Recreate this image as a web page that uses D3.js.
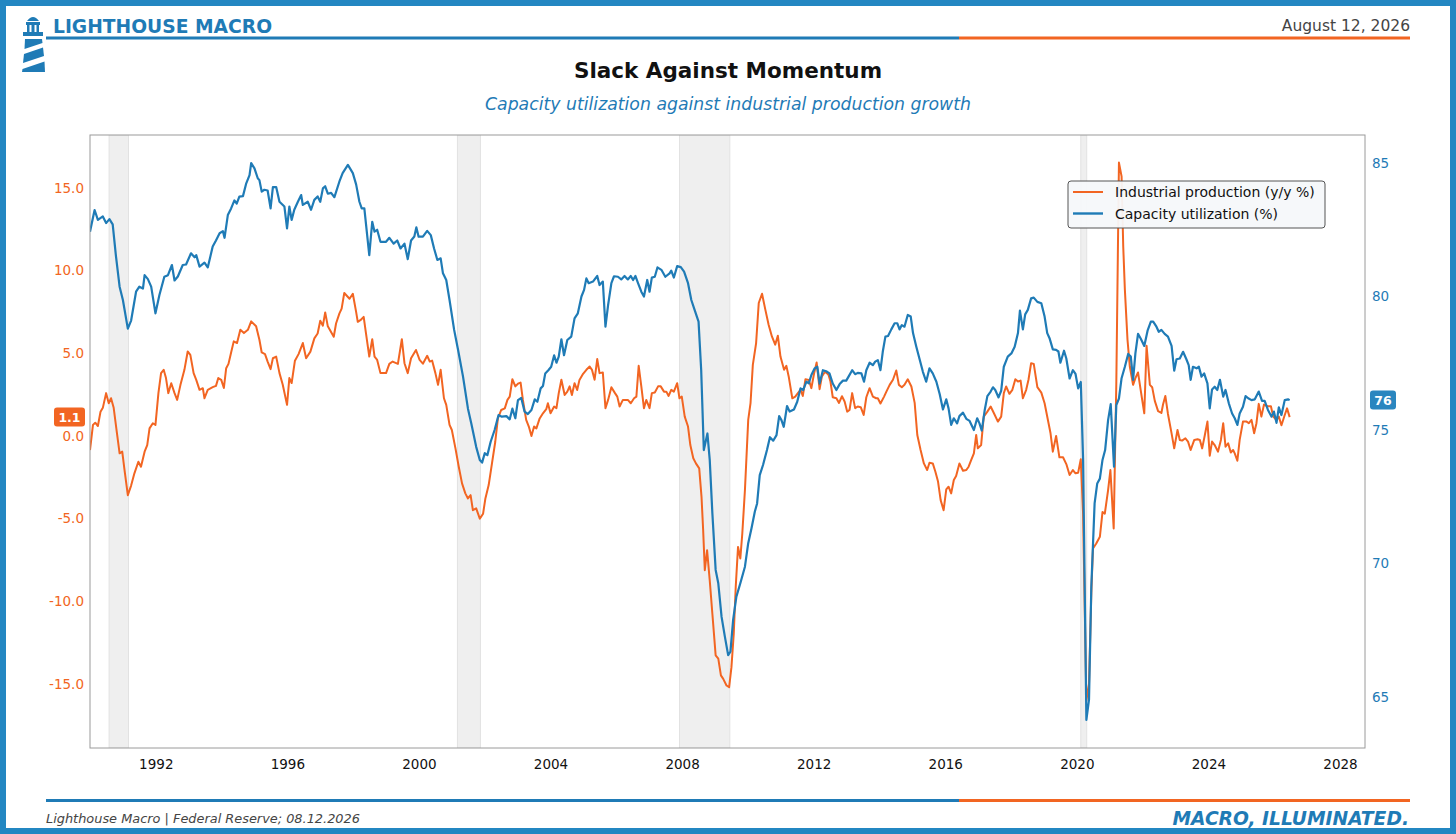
<!DOCTYPE html>
<html>
<head>
<meta charset="utf-8">
<script src="https://cdn.jsdelivr.net/npm/d3@7"></script>
<style>
  html, body { margin: 0; padding: 0; background: #fff; }
  svg { display: block; font-family: "DejaVu Sans", Verdana, sans-serif; }
</style>
</head>
<body>
<div id="chart"></div>
<script>
// industrial production, y/y % (decimal year, value)
const industrialProduction = [
  [1990.00,-0.85],[1990.09,0.67],[1990.16,0.8],[1990.24,0.6],[1990.32,1.47],[1990.39,1.7],[1990.49,2.59],[1990.57,1.98],
  [1990.64,2.28],[1990.72,1.7],[1990.82,0.16],[1990.90,-1.05],[1990.98,-0.95],[1991.05,-2.06],[1991.15,-3.58],[1991.25,-3.0],
  [1991.35,-2.26],[1991.47,-1.56],[1991.55,-1.86],[1991.66,-0.95],[1991.74,-0.55],[1991.81,0.46],[1991.91,0.77],[1991.99,0.67],
  [1992.08,2.59],[1992.16,3.8],[1992.24,4.0],[1992.31,3.5],[1992.38,2.59],[1992.47,3.19],[1992.57,2.59],[1992.65,2.18],
  [1992.75,3.09],[1992.87,4.0],[1992.97,5.11],[1993.05,4.9],[1993.15,3.8],[1993.23,3.39],[1993.33,2.79],[1993.43,2.89],
  [1993.48,2.28],[1993.58,2.79],[1993.73,2.95],[1993.83,3.03],[1993.90,3.5],[1993.99,3.39],[1994.07,2.9],[1994.14,4.1],
  [1994.21,4.36],[1994.29,5.05],[1994.37,5.72],[1994.47,5.62],[1994.57,6.42],[1994.68,6.22],[1994.80,6.42],[1994.90,6.93],
  [1995.05,6.63],[1995.15,5.82],[1995.22,5.05],[1995.32,4.95],[1995.40,4.5],[1995.49,4.04],[1995.56,4.7],[1995.66,4.8],
  [1995.76,3.8],[1995.86,3.1],[1995.99,1.88],[1996.06,3.5],[1996.13,3.2],[1996.23,4.55],[1996.34,4.95],[1996.47,5.62],
  [1996.57,4.7],[1996.70,5.1],[1996.82,5.9],[1996.92,6.2],[1997.00,6.97],[1997.08,6.67],[1997.15,7.47],[1997.23,6.63],
  [1997.41,6.0],[1997.48,6.8],[1997.58,7.4],[1997.65,7.7],[1997.73,8.65],[1997.82,8.45],[1997.89,8.3],[1997.99,8.6],
  [1998.09,7.5],[1998.14,6.9],[1998.22,7.0],[1998.32,7.2],[1998.39,6.2],[1998.49,4.8],[1998.58,5.85],[1998.65,4.8],
  [1998.73,4.6],[1998.83,3.8],[1999.00,3.8],[1999.10,4.36],[1999.20,4.5],[1999.36,4.36],[1999.48,5.85],[1999.56,4.4],
  [1999.66,3.8],[1999.76,4.7],[1999.91,5.2],[2000.02,4.6],[2000.12,4.37],[2000.25,4.85],[2000.33,4.5],[2000.40,4.56],
  [2000.50,3.8],[2000.58,3.09],[2000.66,4.0],[2000.76,2.28],[2000.83,1.88],[2000.93,0.67],[2001.00,0.36],[2001.11,-0.75],
  [2001.21,-1.86],[2001.31,-2.87],[2001.41,-3.47],[2001.49,-3.78],[2001.57,-3.58],[2001.64,-4.49],[2001.74,-4.38],[2001.85,-5.0],
  [2001.95,-4.7],[2002.02,-3.78],[2002.12,-2.97],[2002.22,-1.66],[2002.32,-0.35],[2002.40,1.06],[2002.50,1.57],[2002.61,1.67],
  [2002.69,2.18],[2002.76,2.38],[2002.84,3.43],[2002.93,3.0],[2003.01,3.16],[2003.09,3.23],[2003.16,2.18],[2003.26,0.97],
  [2003.34,0.57],[2003.42,0.0],[2003.50,0.57],[2003.57,0.46],[2003.67,1.06],[2003.77,1.37],[2003.87,1.62],[2003.92,1.98],
  [2004.00,1.37],[2004.11,1.78],[2004.18,1.68],[2004.25,2.59],[2004.33,3.4],[2004.43,2.48],[2004.51,2.68],[2004.58,3.0],
  [2004.65,2.48],[2004.73,3.19],[2004.81,2.78],[2004.88,3.39],[2004.99,3.76],[2005.09,4.0],[2005.19,4.2],[2005.26,4.0],
  [2005.34,3.4],[2005.42,4.65],[2005.49,3.8],[2005.59,3.84],[2005.67,1.68],[2005.75,2.18],[2005.85,2.95],[2005.95,2.62],
  [2006.03,2.38],[2006.10,1.78],[2006.20,2.18],[2006.35,2.18],[2006.44,1.98],[2006.54,2.28],[2006.61,2.38],[2006.68,4.24],
  [2006.76,3.0],[2006.84,1.68],[2006.91,2.18],[2007.01,1.68],[2007.08,2.59],[2007.17,2.63],[2007.27,3.0],[2007.35,3.0],
  [2007.45,2.68],[2007.52,2.68],[2007.59,2.42],[2007.67,2.79],[2007.75,2.68],[2007.85,3.19],[2007.92,2.28],[2007.99,2.38],
  [2008.08,1.17],[2008.18,0.57],[2008.25,-0.55],[2008.34,-1.35],[2008.42,-1.66],[2008.52,-1.96],[2008.59,-3.68],[2008.64,-5.7],
  [2008.69,-8.12],[2008.76,-6.91],[2008.84,-8.73],[2008.92,-10.75],[2009.02,-13.27],[2009.10,-13.47],[2009.18,-14.48],[2009.25,-14.69],
  [2009.35,-15.09],[2009.43,-15.19],[2009.50,-13.98],[2009.57,-11.96],[2009.63,-9.13],[2009.70,-6.71],[2009.77,-7.41],[2009.83,-5.9],
  [2009.91,-3.27],[2010.01,0.97],[2010.08,1.98],[2010.15,4.3],[2010.25,5.62],[2010.33,8.04],[2010.43,8.6],[2010.53,7.64],
  [2010.63,6.73],[2010.73,6.02],[2010.83,5.52],[2010.91,6.06],[2010.99,4.8],[2011.10,4.0],[2011.17,4.24],[2011.24,3.6],
  [2011.35,2.28],[2011.44,2.38],[2011.52,2.59],[2011.60,2.79],[2011.67,2.42],[2011.75,3.43],[2011.85,3.39],[2011.93,2.89],
  [2012.01,3.76],[2012.09,4.44],[2012.18,2.83],[2012.25,3.6],[2012.35,3.9],[2012.45,3.7],[2012.51,3.29],[2012.58,2.34],
  [2012.69,2.28],[2012.77,2.0],[2012.86,2.4],[2012.94,2.08],[2013.02,1.47],[2013.09,1.57],[2013.17,2.59],[2013.26,1.68],
  [2013.34,1.78],[2013.43,1.74],[2013.52,1.27],[2013.60,2.34],[2013.70,2.89],[2013.80,2.38],[2013.90,2.28],[2013.95,2.28],
  [2014.03,1.96],[2014.14,2.38],[2014.21,2.68],[2014.31,3.09],[2014.41,3.4],[2014.51,3.96],[2014.59,3.09],[2014.68,2.95],
  [2014.76,3.09],[2014.86,3.43],[2014.97,2.99],[2015.07,2.0],[2015.15,0.06],[2015.25,-0.85],[2015.35,-1.66],[2015.45,-2.06],
  [2015.52,-1.62],[2015.62,-1.66],[2015.70,-2.16],[2015.78,-2.76],[2015.86,-3.88],[2015.95,-4.49],[2016.03,-3.23],[2016.10,-3.07],
  [2016.18,-3.47],[2016.26,-2.66],[2016.33,-2.42],[2016.43,-1.66],[2016.54,-2.1],[2016.64,-2.06],[2016.71,-1.86],[2016.79,-1.45],
  [2016.87,-1.05],[2016.94,0.06],[2016.99,-0.75],[2017.09,-0.55],[2017.17,1.17],[2017.28,1.47],[2017.38,1.78],[2017.48,1.37],
  [2017.60,0.87],[2017.70,1.17],[2017.78,2.59],[2017.85,2.99],[2017.95,2.55],[2018.04,2.79],[2018.13,3.43],[2018.21,3.29],
  [2018.29,3.35],[2018.36,2.28],[2018.46,2.79],[2018.53,3.4],[2018.61,4.4],[2018.69,4.36],[2018.80,2.95],[2018.92,2.62],
  [2019.02,1.98],[2019.14,0.77],[2019.20,0.16],[2019.27,-0.95],[2019.37,0.0],[2019.47,-1.29],[2019.58,-1.29],[2019.68,-1.7],
  [2019.78,-2.36],[2019.88,-2.06],[2019.96,-2.26],[2020.04,-2.22],[2020.12,-1.41],[2020.19,-4.7],[2020.29,-16.0],[2020.37,-15.0],
  [2020.44,-9.5],[2020.49,-6.81],[2020.59,-6.5],[2020.70,-6.1],[2020.78,-4.6],[2020.85,-4.7],[2020.95,-3.27],[2021.02,-2.06],
  [2021.12,-5.6],[2021.20,3.19],[2021.28,16.53],[2021.36,15.7],[2021.41,11.47],[2021.46,8.85],[2021.54,5.82],[2021.61,4.2],
  [2021.71,3.09],[2021.78,3.5],[2021.86,3.84],[2021.94,2.79],[2022.05,1.37],[2022.12,5.45],[2022.22,3.09],[2022.29,2.95],
  [2022.37,2.12],[2022.47,1.5],[2022.57,1.39],[2022.62,1.9],[2022.69,2.42],[2022.77,1.33],[2022.88,0.16],[2022.96,-0.75],
  [2023.06,0.36],[2023.13,-0.24],[2023.20,-0.28],[2023.30,-0.14],[2023.38,-0.34],[2023.46,-0.85],[2023.57,-0.24],[2023.67,-0.2],
  [2023.74,-0.24],[2023.81,-0.75],[2023.89,0.04],[2023.97,0.87],[2024.04,-1.2],[2024.11,-0.34],[2024.19,-0.55],[2024.29,-0.95],
  [2024.38,-0.24],[2024.45,0.77],[2024.52,-0.65],[2024.60,-0.44],[2024.68,-1.0],[2024.75,-0.85],[2024.80,-1.05],[2024.88,-1.5],
  [2024.95,-0.24],[2025.05,0.87],[2025.16,0.87],[2025.23,0.77],[2025.31,0.97],[2025.39,0.16],[2025.46,0.77],[2025.53,1.94],
  [2025.61,1.17],[2025.69,1.9],[2025.79,1.8],[2025.90,1.8],[2025.97,1.17],[2026.07,0.97],[2026.14,1.17],[2026.22,0.65],
  [2026.32,1.27],[2026.39,1.67],[2026.47,1.14]
];

// capacity utilization, % (decimal year, value)
const capacityUtilization = [
  [1990.00,82.43],[1990.14,83.24],[1990.24,82.87],[1990.39,83.0],[1990.49,82.75],[1990.59,82.9],[1990.69,82.7],[1990.79,81.5],
  [1990.90,80.37],[1991.00,79.87],[1991.15,78.8],[1991.25,79.1],[1991.40,80.18],[1991.50,80.37],[1991.61,80.3],[1991.66,80.8],
  [1991.76,80.65],[1991.86,80.37],[1991.99,79.37],[1992.11,80.06],[1992.26,80.74],[1992.37,80.8],[1992.49,81.18],[1992.57,80.6],
  [1992.67,80.75],[1992.82,81.18],[1992.92,81.2],[1993.07,81.62],[1993.18,81.47],[1993.23,81.55],[1993.33,81.12],[1993.48,81.27],
  [1993.58,81.09],[1993.73,81.87],[1993.83,82.1],[1993.94,82.37],[1994.04,82.45],[1994.09,82.2],[1994.19,83.05],[1994.29,83.3],
  [1994.39,83.6],[1994.46,83.48],[1994.54,83.74],[1994.65,83.76],[1994.75,84.24],[1994.85,84.55],[1994.90,85.0],[1995.00,84.8],
  [1995.10,84.43],[1995.15,84.36],[1995.22,83.93],[1995.30,84.0],[1995.40,83.97],[1995.49,83.3],[1995.56,84.1],[1995.66,84.1],
  [1995.76,83.55],[1995.91,83.37],[1995.99,82.55],[1996.06,83.37],[1996.13,82.87],[1996.21,83.25],[1996.32,83.55],[1996.42,83.8],
  [1996.47,83.43],[1996.62,83.55],[1996.72,83.25],[1996.82,83.62],[1996.92,83.75],[1997.00,83.55],[1997.08,84.05],[1997.15,84.13],
  [1997.23,83.85],[1997.33,83.88],[1997.43,83.72],[1997.58,84.3],[1997.68,84.62],[1997.84,84.93],[1997.99,84.62],[1998.09,84.2],
  [1998.19,83.55],[1998.26,83.3],[1998.34,83.3],[1998.49,81.55],[1998.58,82.8],[1998.65,82.43],[1998.73,82.5],[1998.83,82.05],
  [1999.00,82.05],[1999.10,82.2],[1999.23,81.98],[1999.34,82.1],[1999.44,81.8],[1999.56,81.98],[1999.66,81.4],[1999.76,82.1],
  [1999.86,82.25],[1999.92,82.59],[1999.99,82.24],[2000.12,82.24],[2000.25,82.46],[2000.36,82.3],[2000.46,81.8],[2000.56,81.37],
  [2000.66,81.43],[2000.73,80.87],[2000.83,80.62],[2000.93,79.87],[2001.07,78.75],[2001.19,78.0],[2001.34,77.0],[2001.49,75.8],
  [2001.59,75.25],[2001.74,74.37],[2001.85,73.88],[2001.92,73.78],[2002.00,74.13],[2002.08,74.06],[2002.18,74.56],[2002.30,75.0],
  [2002.42,75.56],[2002.52,75.5],[2002.66,75.52],[2002.76,75.4],[2002.84,75.8],[2002.93,75.44],[2003.01,76.12],[2003.11,76.2],
  [2003.21,75.69],[2003.31,75.6],[2003.42,75.75],[2003.52,76.15],[2003.60,76.06],[2003.70,76.56],[2003.77,76.65],[2003.84,77.12],
  [2003.94,77.25],[2004.02,77.37],[2004.11,77.8],[2004.18,77.52],[2004.25,77.75],[2004.33,78.4],[2004.41,77.8],[2004.51,78.37],
  [2004.63,78.5],[2004.73,79.18],[2004.83,79.37],[2004.94,80.0],[2005.02,80.25],[2005.09,80.68],[2005.16,80.5],[2005.29,80.56],
  [2005.42,80.77],[2005.49,80.43],[2005.59,80.56],[2005.67,78.87],[2005.75,79.68],[2005.85,80.5],[2005.93,80.76],[2006.05,80.74],
  [2006.15,80.64],[2006.25,80.77],[2006.35,80.64],[2006.44,80.77],[2006.51,80.62],[2006.58,80.77],[2006.66,80.5],[2006.76,80.18],
  [2006.84,80.0],[2006.94,80.62],[2007.01,80.18],[2007.08,80.71],[2007.17,80.74],[2007.25,81.09],[2007.37,81.0],[2007.49,80.74],
  [2007.62,80.87],[2007.67,80.97],[2007.75,80.71],[2007.85,81.14],[2007.96,81.1],[2008.06,80.93],[2008.18,80.5],[2008.28,79.87],
  [2008.38,79.5],[2008.50,79.06],[2008.58,77.25],[2008.66,74.25],[2008.77,74.87],[2008.84,73.88],[2008.92,71.88],[2009.02,69.76],
  [2009.10,69.26],[2009.20,68.0],[2009.30,67.26],[2009.40,66.57],[2009.47,66.7],[2009.55,67.88],[2009.65,68.76],[2009.77,69.26],
  [2009.91,69.88],[2010.01,70.76],[2010.11,71.32],[2010.21,71.94],[2010.28,72.25],[2010.36,73.31],[2010.46,73.69],[2010.58,74.25],
  [2010.67,74.73],[2010.77,74.6],[2010.87,74.81],[2010.95,75.52],[2011.02,75.37],[2011.09,75.12],[2011.19,75.9],[2011.27,75.69],
  [2011.40,75.77],[2011.50,76.06],[2011.60,76.56],[2011.68,76.5],[2011.78,76.81],[2011.85,76.75],[2011.93,77.06],[2012.03,77.31],
  [2012.11,77.37],[2012.18,76.74],[2012.28,77.24],[2012.38,77.2],[2012.48,77.12],[2012.58,76.74],[2012.69,76.5],[2012.79,76.72],
  [2012.89,76.85],[2012.99,76.85],[2013.06,77.0],[2013.17,77.24],[2013.26,77.09],[2013.34,77.14],[2013.45,77.12],[2013.53,76.81],
  [2013.60,77.24],[2013.70,77.52],[2013.80,77.43],[2013.87,77.56],[2013.95,77.62],[2014.03,77.24],[2014.10,77.93],[2014.18,78.5],
  [2014.26,78.52],[2014.36,78.77],[2014.46,79.0],[2014.54,79.0],[2014.61,78.77],[2014.68,78.93],[2014.76,78.87],[2014.86,79.31],
  [2014.95,79.25],[2015.02,78.63],[2015.12,78.12],[2015.22,77.65],[2015.32,77.18],[2015.42,76.81],[2015.52,77.31],[2015.62,77.12],
  [2015.73,76.81],[2015.83,76.35],[2015.93,75.77],[2016.03,76.15],[2016.10,75.81],[2016.18,75.19],[2016.26,75.44],[2016.36,75.25],
  [2016.43,75.52],[2016.54,75.65],[2016.64,75.42],[2016.74,75.34],[2016.87,75.0],[2016.97,75.44],[2017.04,75.25],[2017.11,74.98],
  [2017.20,75.75],[2017.28,76.27],[2017.38,76.44],[2017.45,76.6],[2017.52,76.5],[2017.62,76.22],[2017.70,76.47],[2017.78,77.37],
  [2017.90,77.75],[2018.01,77.87],[2018.11,78.12],[2018.21,78.63],[2018.27,79.47],[2018.36,78.77],[2018.43,79.33],[2018.51,79.5],
  [2018.61,79.93],[2018.69,79.96],[2018.80,79.8],[2018.92,79.75],[2019.02,79.25],[2019.10,78.63],[2019.17,78.44],[2019.27,78.02],
  [2019.37,78.0],[2019.44,77.94],[2019.50,77.52],[2019.61,77.97],[2019.68,77.68],[2019.78,76.93],[2019.88,77.24],[2019.96,77.1],
  [2020.04,76.56],[2020.12,76.8],[2020.19,73.9],[2020.29,64.14],[2020.37,64.9],[2020.44,69.13],[2020.54,72.25],[2020.62,73.0],
  [2020.70,73.18],[2020.78,73.88],[2020.86,74.25],[2020.95,75.37],[2021.03,75.97],[2021.13,73.63],[2021.20,75.93],[2021.28,76.18],
  [2021.36,76.94],[2021.46,77.37],[2021.56,77.85],[2021.64,77.75],[2021.71,76.88],[2021.78,77.87],[2021.86,78.6],[2021.94,78.43],
  [2022.05,78.15],[2022.15,78.72],[2022.25,79.06],[2022.32,79.06],[2022.42,78.87],[2022.49,78.68],[2022.57,78.75],[2022.67,78.6],
  [2022.77,78.5],[2022.88,78.15],[2022.96,77.22],[2023.03,77.65],[2023.13,77.68],[2023.23,77.93],[2023.33,77.65],[2023.40,77.43],
  [2023.46,76.88],[2023.53,77.37],[2023.64,77.31],[2023.71,77.37],[2023.79,77.0],[2023.87,77.12],[2023.97,76.75],[2024.04,75.81],
  [2024.11,76.52],[2024.19,76.62],[2024.27,76.5],[2024.35,76.88],[2024.45,76.25],[2024.52,76.5],[2024.62,76.0],[2024.72,75.62],
  [2024.80,75.44],[2024.88,75.19],[2024.95,75.62],[2025.05,75.87],[2025.13,76.27],[2025.21,76.19],[2025.31,76.12],[2025.41,76.15],
  [2025.53,76.44],[2025.63,76.09],[2025.71,76.09],[2025.81,75.75],[2025.92,75.5],[2025.99,75.69],[2026.07,75.27],[2026.14,75.85],
  [2026.22,75.56],[2026.32,76.12],[2026.42,76.15],[2026.47,76.12]
];

// NBER recessions (start, end) as decimal years
const recessions = [[1990.58, 1991.17], [2001.17, 2001.87], [2007.92, 2009.45], [2020.12, 2020.30]];

const yearTicks = [1992, 1996, 2000, 2004, 2008, 2012, 2016, 2020, 2024, 2028];
const ipTicks = [-15, -10, -5, 0, 5, 10, 15];
const cuTicks = [65, 70, 75, 80, 85];
const seriesNames = ["Industrial production (y/y %)", "Capacity utilization (%)"];

const W = 1456, H = 834;
const BLUE = "#1f7bb6", ORANGE = "#f26522", FRAME = "#2387c2";
const plot = { left: 90, right: 1365, top: 135, bottom: 748 };

const svg = d3.select("#chart").append("svg")
  .attr("width", W)
  .attr("height", H);

svg.append("rect").attr("width", W).attr("height", H).attr("fill", "#fff");

// outer frame
svg.append("rect")
  .attr("x", 3).attr("y", 3)
  .attr("width", W - 6).attr("height", H - 6)
  .attr("fill", "none")
  .attr("stroke", FRAME)
  .attr("stroke-width", 6);

// lighthouse mark
const logo = svg.append("g").attr("fill", BLUE);
logo.append("path").attr("d", "M27,21 Q33,13 39,21 Z");
logo.append("rect").attr("x", 26).attr("y", 22).attr("width", 14).attr("height", 3);
logo.append("rect").attr("x", 27).attr("y", 25).attr("width", 2.5).attr("height", 7);
logo.append("rect").attr("x", 36.5).attr("y", 25).attr("width", 2.5).attr("height", 7);
logo.append("rect").attr("x", 31.5).attr("y", 25).attr("width", 3).attr("height", 7);
logo.append("rect").attr("x", 23).attr("y", 32).attr("width", 20).attr("height", 4);
logo.append("path").attr("d", "M25,39 L42,39 L42.5,43 L24.5,49 Z");
logo.append("path").attr("d", "M24,54 L43,47.5 L44,56 L23,63 Z");
logo.append("path").attr("d", "M22.5,69 L44.5,61.5 L45,72 L22,72 Z");

// header
svg.append("text")
  .attr("x", 53).attr("y", 33)
  .attr("font-size", 18.7).attr("font-weight", "bold")
  .attr("fill", BLUE)
  .text("LIGHTHOUSE MACRO");

svg.append("text")
  .attr("x", 1410).attr("y", 31)
  .attr("text-anchor", "end")
  .attr("font-size", 15.5).attr("fill", "#444")
  .text("August 12, 2026");

function rule(y) {
  svg.append("line").attr("x1", 46).attr("x2", 959).attr("y1", y).attr("y2", y)
    .attr("stroke", BLUE).attr("stroke-width", 3);
  svg.append("line").attr("x1", 959).attr("x2", 1410).attr("y1", y).attr("y2", y)
    .attr("stroke", ORANGE).attr("stroke-width", 3);
}
rule(38);
rule(800.5);

svg.append("text")
  .attr("x", 728).attr("y", 78)
  .attr("text-anchor", "middle")
  .attr("font-size", 21.5).attr("font-weight", "bold").attr("fill", "#111")
  .text("Slack Against Momentum");

svg.append("text")
  .attr("x", 728).attr("y", 110)
  .attr("text-anchor", "middle")
  .attr("font-size", 17.3).attr("font-style", "italic").attr("fill", BLUE)
  .text("Capacity utilization against industrial production growth");

// scales
const x = d3.scaleLinear().domain([1990, 2028.76]).range([plot.left, plot.right]);
const yLeft = d3.scaleLinear().domain([-18.87, 18.2]).range([plot.bottom, plot.top]);
const yRight = d3.scaleLinear().domain([63.09, 86.05]).range([plot.bottom, plot.top]);

svg.append("clipPath").attr("id", "plot-clip")
  .append("rect")
  .attr("x", plot.left).attr("y", plot.top)
  .attr("width", plot.right - plot.left).attr("height", plot.bottom - plot.top);

const body = svg.append("g").attr("clip-path", "url(#plot-clip)");

// recession shading
body.selectAll("rect.recession")
  .data(recessions)
  .enter()
  .append("rect")
  .attr("class", "recession")
  .attr("x", (d) => x(d[0]))
  .attr("width", (d) => x(d[1]) - x(d[0]))
  .attr("y", plot.top)
  .attr("height", plot.bottom - plot.top)
  .attr("fill", "#efefef")
  .attr("stroke", "#e2e2e2")
  .attr("stroke-width", 1);

// series
const ipLine = d3.line().x((d) => x(d[0])).y((d) => yLeft(d[1]));
const cuLine = d3.line().x((d) => x(d[0])).y((d) => yRight(d[1]));

body.append("path")
  .datum(industrialProduction)
  .attr("d", ipLine)
  .attr("fill", "none")
  .attr("stroke", ORANGE)
  .attr("stroke-width", 2)
  .attr("stroke-linejoin", "round");

body.append("path")
  .datum(capacityUtilization)
  .attr("d", cuLine)
  .attr("fill", "none")
  .attr("stroke", BLUE)
  .attr("stroke-width", 2.2)
  .attr("stroke-linejoin", "round");

// plot frame
svg.append("rect")
  .attr("x", plot.left).attr("y", plot.top)
  .attr("width", plot.right - plot.left).attr("height", plot.bottom - plot.top)
  .attr("fill", "none")
  .attr("stroke", "#9a9a9a")
  .attr("stroke-width", 1);

// axes (tick lines hidden, labels only)
const xAxis = svg.append("g")
  .attr("transform", `translate(0,${plot.bottom})`)
  .call(d3.axisBottom(x).tickValues(yearTicks).tickFormat(d3.format("d")).tickSize(0).tickPadding(11));

const leftAxis = svg.append("g")
  .attr("transform", `translate(${plot.left},0)`)
  .call(d3.axisLeft(yLeft).tickValues(ipTicks).tickFormat((d) => d.toFixed(1)).tickSize(0).tickPadding(6));

const rightAxis = svg.append("g")
  .attr("transform", `translate(${plot.right},0)`)
  .call(d3.axisRight(yRight).tickValues(cuTicks).tickFormat(d3.format("d")).tickSize(0).tickPadding(7));

[xAxis, leftAxis, rightAxis].forEach((g) => {
  g.select(".domain").remove();
  g.selectAll("text").attr("font-family", "DejaVu Sans, sans-serif").attr("font-size", 13.5);
});
xAxis.selectAll("text").attr("fill", "#111");
leftAxis.selectAll("text").attr("fill", ORANGE);
rightAxis.selectAll("text").attr("fill", BLUE);

// latest-value badges
function badge(label, cx, cy, color, w) {
  svg.append("rect")
    .attr("x", cx - w / 2).attr("y", cy - 9.5)
    .attr("width", w).attr("height", 19)
    .attr("rx", 3)
    .attr("fill", color);
  svg.append("text")
    .attr("x", cx).attr("y", cy + 4.5)
    .attr("text-anchor", "middle")
    .attr("font-size", 12.5).attr("font-weight", "bold").attr("fill", "#fff")
    .text(label);
}
const lastIp = industrialProduction[industrialProduction.length - 1][1];
const lastCu = capacityUtilization[capacityUtilization.length - 1][1];
badge(lastIp.toFixed(1), 69.5, yLeft(lastIp), ORANGE, 31);
badge(d3.format(".0f")(lastCu), 1383, yRight(lastCu), "#2a86bf", 26);

// legend
const legend = svg.append("g").attr("transform", "translate(1068,181)");
legend.append("rect")
  .attr("width", 257).attr("height", 47)
  .attr("rx", 3)
  .attr("fill", "#f6f8fa")
  .attr("fill-opacity", 0.95)
  .attr("stroke", "#555")
  .attr("stroke-width", 1);

const legendRows = legend.selectAll("g.row")
  .data(seriesNames)
  .enter()
  .append("g")
  .attr("class", "row")
  .attr("transform", (d, i) => `translate(0,${11 + i * 21.5})`);

legendRows.append("line")
  .attr("x1", 5).attr("x2", 35)
  .attr("stroke", (d, i) => (i === 0 ? ORANGE : BLUE))
  .attr("stroke-width", (d, i) => (i === 0 ? 2 : 2.4));

legendRows.append("text")
  .attr("x", 47).attr("y", 5)
  .attr("font-size", 14).attr("fill", "#111")
  .text((d) => d);

// footer
svg.append("text")
  .attr("x", 46).attr("y", 823)
  .attr("font-size", 12.9).attr("font-style", "italic").attr("fill", "#444")
  .text("Lighthouse Macro | Federal Reserve; 08.12.2026");

svg.append("text")
  .attr("x", 1409).attr("y", 825)
  .attr("text-anchor", "end")
  .attr("font-size", 18.7).attr("font-weight", "bold").attr("font-style", "italic")
  .attr("fill", BLUE)
  .text("MACRO, ILLUMINATED.");
</script>
</body>
</html>
